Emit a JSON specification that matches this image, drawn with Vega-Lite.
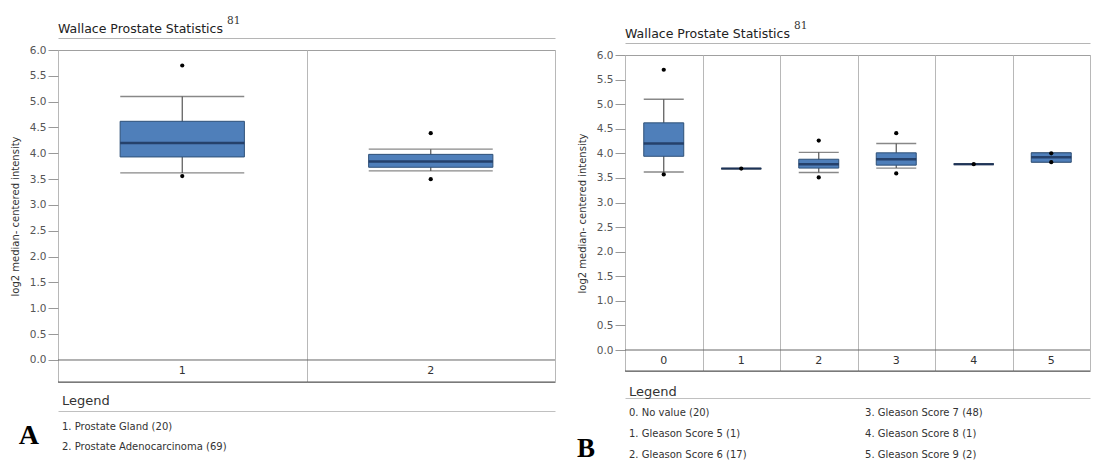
{
  "$schema": "https://vega.github.io/schema/vega-lite/v6.json",
  "background": "white",
  "padding": {"left": 9, "top": 14, "right": 0, "bottom": 0},
  "config": {"font": "DejaVu Sans", "view": {"stroke": "#a0a0a0"},
    "axisY": {"grid": false, "domain": false, "tickSize": 10, "tickColor": "#999", "labelColor": "#555", "labelFontSize": 10.5, "labelPadding": 2, "labelOverlap": false, "titleFontSize": 10, "titleFontWeight": "normal", "titleColor": "#333", "titlePadding": 9}},
  "datasets": {
    "head": [{"title": "Wallace Prostate Statistics", "sup": "81"}],
    "boxA": [
      {"g": "1", "lower": 3.62, "q1": 3.93, "median": 4.2, "q3": 4.62, "upper": 5.1},
      {"g": "2", "lower": 3.66, "q1": 3.73, "median": 3.84, "q3": 3.98, "upper": 4.08}
    ],
    "outA": [
      {"g": "1", "v": 5.7}, {"g": "1", "v": 3.56},
      {"g": "2", "v": 4.39}, {"g": "2", "v": 3.5}
    ],
    "legA": [
      {"col": 0, "row": 1, "label": "1. Prostate Gland (20)"},
      {"col": 0, "row": 2, "label": "2. Prostate Adenocarcinoma (69)"}
    ],
    "letterA": [{"letter": "A"}],
    "boxB": [
      {"g": "0", "lower": 3.62, "q1": 3.94, "median": 4.2, "q3": 4.62, "upper": 5.1},
      {"g": "1", "lower": 3.69, "q1": 3.69, "median": 3.69, "q3": 3.69, "upper": 3.69},
      {"g": "2", "lower": 3.61, "q1": 3.7, "median": 3.78, "q3": 3.88, "upper": 4.02},
      {"g": "3", "lower": 3.7, "q1": 3.76, "median": 3.88, "q3": 4.01, "upper": 4.2},
      {"g": "4", "lower": 3.78, "q1": 3.78, "median": 3.78, "q3": 3.78, "upper": 3.78},
      {"g": "5", "lower": 3.82, "q1": 3.82, "median": 3.92, "q3": 4.01, "upper": 4.01}
    ],
    "outB": [
      {"g": "0", "v": 5.7}, {"g": "0", "v": 3.57},
      {"g": "1", "v": 3.69},
      {"g": "2", "v": 4.26}, {"g": "2", "v": 3.51},
      {"g": "3", "v": 4.41}, {"g": "3", "v": 3.59},
      {"g": "4", "v": 3.78},
      {"g": "5", "v": 4.0}, {"g": "5", "v": 3.82}
    ],
    "legB": [
      {"col": 0, "row": 1, "label": "0. No value (20)"},
      {"col": 0, "row": 2, "label": "1. Gleason Score 5 (1)"},
      {"col": 0, "row": 3, "label": "2. Gleason Score 6 (17)"},
      {"col": 1, "row": 1, "label": "3. Gleason Score 7 (48)"},
      {"col": 1, "row": 2, "label": "4. Gleason Score 8 (1)"},
      {"col": 1, "row": 3, "label": "5. Gleason Score 9 (2)"}
    ],
    "letterB": [{"letter": "B"}],
    "blank": [{}]
  },
  "spacing": 20,
  "hconcat": [
    {
      "spacing": 6,
      "vconcat": [
        {
          "width": 497, "height": 24,
          "data": {"name": "head"},
          "view": {"stroke": null},
          "encoding": {
            "x": {"datum": 0, "type": "quantitative", "scale": {"domain": [0, 1], "nice": false}, "axis": {"orient": "bottom", "domain": true, "domainColor": "#b5b5b5", "labels": false, "ticks": false, "grid": false, "title": null}},
            "y": {"datum": 0, "type": "quantitative", "scale": {"domain": [0, 1], "nice": false}, "axis": null}
          },
          "layer": [
            {"mark": {"type": "text", "align": "left", "baseline": "alphabetic", "dy": -5, "fontSize": 12.5, "color": "#222"}, "encoding": {"text": {"field": "title"}}},
            {"mark": {"type": "text", "align": "left", "baseline": "alphabetic", "dx": 169, "dy": -14, "font": "DejaVu Serif", "fontSize": 10.5, "color": "#333"}, "encoding": {"text": {"field": "sup"}}}
          ]
        },
        {
          "width": 497, "height": 332,
          "encoding": {
            "x": {"field": "g", "type": "nominal", "scale": {"type": "band", "paddingInner": 0, "paddingOuter": 0}, "axis": {"orient": "bottom", "labels": false, "ticks": false, "domain": false, "grid": true, "tickBand": "extent", "gridColor": "#b8b8b8", "title": null, "minExtent": 6}}
          },
          "layer": [
            {"data": {"name": "boxA"}, "mark": {"type": "rule", "color": "#555", "strokeWidth": 1.2},
             "encoding": {
               "y": {"field": "lower", "type": "quantitative", "scale": {"domain": [-0.426, 6], "nice": false, "zero": false},
                     "axis": {"values": [0, 0.5, 1, 1.5, 2, 2.5, 3, 3.5, 4, 4.5, 5, 5.5, 6], "format": ".1f", "title": "log2 median- centered intensity"}},
               "y2": {"field": "upper"}
             }},
            {"data": {"name": "boxA"}, "mark": {"type": "tick", "color": "#555", "size": 124, "thickness": 1.3},
             "encoding": {"y": {"field": "lower", "type": "quantitative", "axis": {"values": [0, 0.5, 1, 1.5, 2, 2.5, 3, 3.5, 4, 4.5, 5, 5.5, 6], "format": ".1f", "title": "log2 median- centered intensity"}}}},
            {"data": {"name": "boxA"}, "mark": {"type": "tick", "color": "#555", "size": 124, "thickness": 1.3},
             "encoding": {"y": {"field": "upper", "type": "quantitative", "axis": {"values": [0, 0.5, 1, 1.5, 2, 2.5, 3, 3.5, 4, 4.5, 5, 5.5, 6], "format": ".1f", "title": "log2 median- centered intensity"}}}},
            {"data": {"name": "boxA"}, "mark": {"type": "bar", "width": {"band": 0.5}, "fill": "#4f7fba", "stroke": "#2f5178", "strokeWidth": 1},
             "encoding": {"y": {"field": "q1", "type": "quantitative", "axis": {"values": [0, 0.5, 1, 1.5, 2, 2.5, 3, 3.5, 4, 4.5, 5, 5.5, 6], "format": ".1f", "title": "log2 median- centered intensity"}}, "y2": {"field": "q3"}}},
            {"data": {"name": "boxA"}, "mark": {"type": "tick", "color": "#14264a", "size": 124, "thickness": 2.5},
             "encoding": {"y": {"field": "median", "type": "quantitative", "axis": {"values": [0, 0.5, 1, 1.5, 2, 2.5, 3, 3.5, 4, 4.5, 5, 5.5, 6], "format": ".1f", "title": "log2 median- centered intensity"}}}},
            {"data": {"name": "outA"}, "mark": {"type": "point", "filled": true, "color": "#000", "size": 18, "opacity": 1},
             "encoding": {"y": {"field": "v", "type": "quantitative", "axis": {"values": [0, 0.5, 1, 1.5, 2, 2.5, 3, 3.5, 4, 4.5, 5, 5.5, 6], "format": ".1f", "title": "log2 median- centered intensity"}}}},
            {"data": {"name": "blank"}, "mark": {"type": "rule", "color": "#666"},
             "encoding": {"x": null, "y": {"datum": 0, "type": "quantitative", "axis": {"values": [0, 0.5, 1, 1.5, 2, 2.5, 3, 3.5, 4, 4.5, 5, 5.5, 6], "format": ".1f", "title": "log2 median- centered intensity"}}}},
            {"data": {"name": "blank"}, "mark": {"type": "rule", "color": "#555"},
             "encoding": {"x": null, "y": {"datum": -0.426, "type": "quantitative", "axis": {"values": [0, 0.5, 1, 1.5, 2, 2.5, 3, 3.5, 4, 4.5, 5, 5.5, 6], "format": ".1f", "title": "log2 median- centered intensity"}}}},
            {"data": {"name": "boxA"}, "mark": {"type": "text", "fontSize": 11, "color": "#333", "baseline": "middle"},
             "encoding": {"y": {"datum": -0.213, "type": "quantitative", "axis": {"values": [0, 0.5, 1, 1.5, 2, 2.5, 3, 3.5, 4, 4.5, 5, 5.5, 6], "format": ".1f", "title": "log2 median- centered intensity"}}, "text": {"field": "g"}}}
          ]
        },
        {
          "width": 497, "height": 49,
          "view": {"stroke": null},
          "title": {"text": "Legend", "anchor": "start", "frame": "group", "fontSize": 13, "fontWeight": "normal", "color": "#333", "offset": 3, "dx": 4},
          "layer": [
            {"data": {"name": "legA"}, "mark": {"type": "text", "align": "left", "baseline": "middle", "dx": 4, "fontSize": 10, "color": "#333"},
             "encoding": {
               "x": {"field": "col", "type": "quantitative", "scale": {"domain": [0, 2], "nice": false}, "axis": {"orient": "top", "labels": false, "ticks": false, "grid": false, "domainColor": "#c0c0c0", "title": null}},
               "y": {"field": "row", "type": "quantitative", "scale": {"domain": [0.25, 2.6], "reverse": true, "nice": false, "zero": false}, "axis": null},
               "text": {"field": "label"}
             }},
            {"data": {"name": "letterA"}, "mark": {"type": "text", "font": "Liberation Serif", "fontWeight": "bold", "fontSize": 28, "align": "center", "baseline": "middle", "color": "#000"},
             "encoding": {"x": {"datum": -0.117}, "y": {"datum": 1.45}, "text": {"field": "letter"}}}
          ]
        }
      ]
    },
    {
      "spacing": 6,
      "vconcat": [
        {
          "width": 465, "height": 29,
          "data": {"name": "head"},
          "view": {"stroke": null},
          "encoding": {
            "x": {"datum": 0, "type": "quantitative", "scale": {"domain": [0, 1], "nice": false}, "axis": {"orient": "bottom", "domain": true, "domainColor": "#b5b5b5", "labels": false, "ticks": false, "grid": false, "title": null}},
            "y": {"datum": 0, "type": "quantitative", "scale": {"domain": [0, 1], "nice": false}, "axis": null}
          },
          "layer": [
            {"mark": {"type": "text", "align": "left", "baseline": "alphabetic", "dy": -5, "fontSize": 12.5, "color": "#222"}, "encoding": {"text": {"field": "title"}}},
            {"mark": {"type": "text", "align": "left", "baseline": "alphabetic", "dx": 169, "dy": -14, "font": "DejaVu Serif", "fontSize": 10.5, "color": "#333"}, "encoding": {"text": {"field": "sup"}}}
          ]
        },
        {
          "width": 465, "height": 316,
          "encoding": {
            "x": {"field": "g", "type": "nominal", "scale": {"type": "band", "paddingInner": 0, "paddingOuter": 0}, "axis": {"orient": "bottom", "labels": false, "ticks": false, "domain": false, "grid": true, "tickBand": "extent", "gridColor": "#b8b8b8", "title": null, "minExtent": 8}}
          },
          "layer": [
            {"data": {"name": "boxB"}, "mark": {"type": "rule", "color": "#555", "strokeWidth": 1.2},
             "encoding": {
               "y": {"field": "lower", "type": "quantitative", "scale": {"domain": [-0.427, 6], "nice": false, "zero": false},
                     "axis": {"values": [0, 0.5, 1, 1.5, 2, 2.5, 3, 3.5, 4, 4.5, 5, 5.5, 6], "format": ".1f", "title": "log2 median- centered intensity"}},
               "y2": {"field": "upper"}
             }},
            {"data": {"name": "boxB"}, "mark": {"type": "tick", "color": "#555", "size": 40, "thickness": 1.3},
             "encoding": {"y": {"field": "lower", "type": "quantitative", "axis": {"values": [0, 0.5, 1, 1.5, 2, 2.5, 3, 3.5, 4, 4.5, 5, 5.5, 6], "format": ".1f", "title": "log2 median- centered intensity"}}}},
            {"data": {"name": "boxB"}, "mark": {"type": "tick", "color": "#555", "size": 40, "thickness": 1.3},
             "encoding": {"y": {"field": "upper", "type": "quantitative", "axis": {"values": [0, 0.5, 1, 1.5, 2, 2.5, 3, 3.5, 4, 4.5, 5, 5.5, 6], "format": ".1f", "title": "log2 median- centered intensity"}}}},
            {"data": {"name": "boxB"}, "mark": {"type": "bar", "width": {"band": 0.516}, "fill": "#4f7fba", "stroke": "#2f5178", "strokeWidth": 1},
             "encoding": {"y": {"field": "q1", "type": "quantitative", "axis": {"values": [0, 0.5, 1, 1.5, 2, 2.5, 3, 3.5, 4, 4.5, 5, 5.5, 6], "format": ".1f", "title": "log2 median- centered intensity"}}, "y2": {"field": "q3"}}},
            {"data": {"name": "boxB"}, "mark": {"type": "tick", "color": "#14264a", "size": 40, "thickness": 2.5},
             "encoding": {"y": {"field": "median", "type": "quantitative", "axis": {"values": [0, 0.5, 1, 1.5, 2, 2.5, 3, 3.5, 4, 4.5, 5, 5.5, 6], "format": ".1f", "title": "log2 median- centered intensity"}}}},
            {"data": {"name": "outB"}, "mark": {"type": "point", "filled": true, "color": "#000", "size": 18, "opacity": 1},
             "encoding": {"y": {"field": "v", "type": "quantitative", "axis": {"values": [0, 0.5, 1, 1.5, 2, 2.5, 3, 3.5, 4, 4.5, 5, 5.5, 6], "format": ".1f", "title": "log2 median- centered intensity"}}}},
            {"data": {"name": "blank"}, "mark": {"type": "rule", "color": "#666"},
             "encoding": {"x": null, "y": {"datum": 0, "type": "quantitative", "axis": {"values": [0, 0.5, 1, 1.5, 2, 2.5, 3, 3.5, 4, 4.5, 5, 5.5, 6], "format": ".1f", "title": "log2 median- centered intensity"}}}},
            {"data": {"name": "blank"}, "mark": {"type": "rule", "color": "#555"},
             "encoding": {"x": null, "y": {"datum": -0.427, "type": "quantitative", "axis": {"values": [0, 0.5, 1, 1.5, 2, 2.5, 3, 3.5, 4, 4.5, 5, 5.5, 6], "format": ".1f", "title": "log2 median- centered intensity"}}}},
            {"data": {"name": "boxB"}, "mark": {"type": "text", "fontSize": 11, "color": "#333", "baseline": "middle"},
             "encoding": {"y": {"datum": -0.2135, "type": "quantitative", "axis": {"values": [0, 0.5, 1, 1.5, 2, 2.5, 3, 3.5, 4, 4.5, 5, 5.5, 6], "format": ".1f", "title": "log2 median- centered intensity"}}, "text": {"field": "g"}}}
          ]
        },
        {
          "width": 465, "height": 61,
          "view": {"stroke": null},
          "title": {"text": "Legend", "anchor": "start", "frame": "group", "fontSize": 13, "fontWeight": "normal", "color": "#333", "offset": -1, "dx": 4},
          "layer": [
            {"data": {"name": "legB"}, "mark": {"type": "text", "align": "left", "baseline": "middle", "dx": 4, "fontSize": 10, "color": "#333"},
             "encoding": {
               "x": {"field": "col", "type": "quantitative", "scale": {"domain": [0, 1.97], "nice": false}, "axis": {"orient": "top", "labels": false, "ticks": false, "grid": false, "domainColor": "#c0c0c0", "title": null}},
               "y": {"field": "row", "type": "quantitative", "scale": {"domain": [0.3, 3.2], "reverse": true, "nice": false, "zero": false}, "axis": null},
               "text": {"field": "label"}
             }},
            {"data": {"name": "letterB"}, "mark": {"type": "text", "font": "Liberation Serif", "fontWeight": "bold", "fontSize": 27, "align": "center", "baseline": "middle", "color": "#000"},
             "encoding": {"x": {"datum": -0.165}, "y": {"datum": 2.72}, "text": {"field": "letter"}}}
          ]
        }
      ]
    }
  ]
}
